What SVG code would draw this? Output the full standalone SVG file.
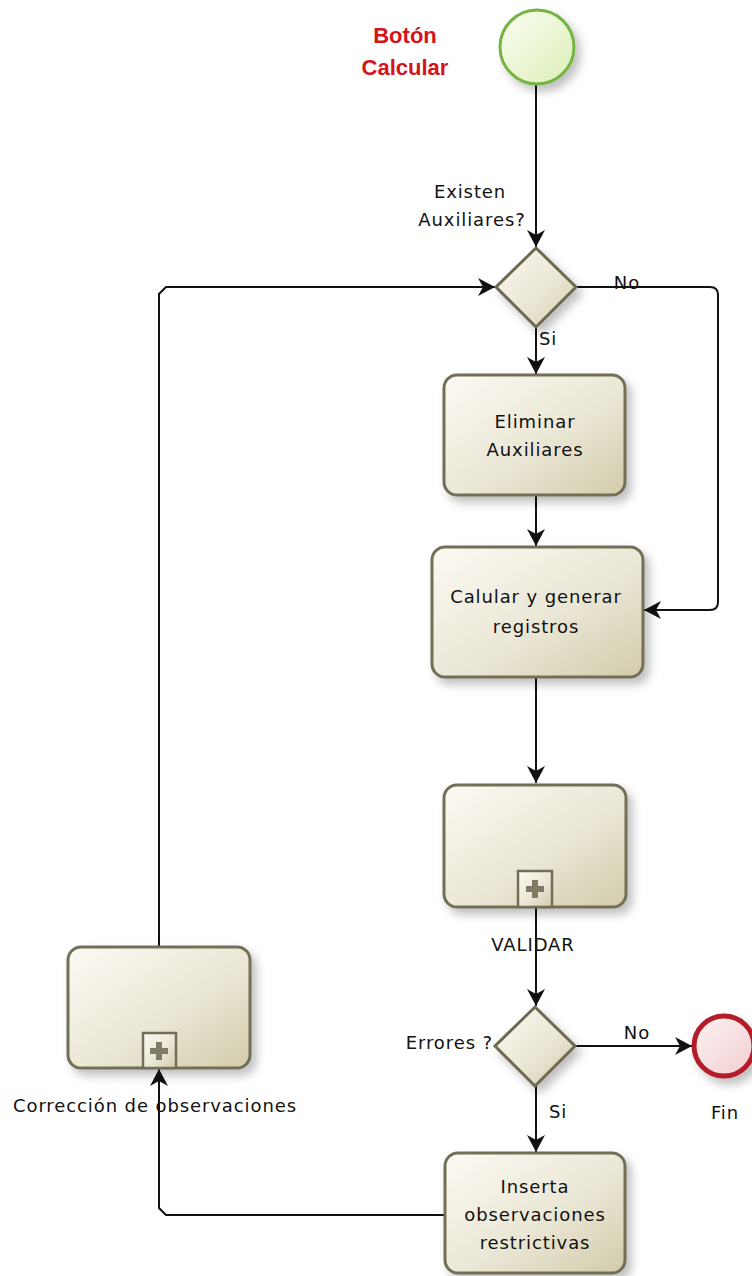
<svg xmlns="http://www.w3.org/2000/svg" width="752" height="1276" viewBox="0 0 752 1276">
<defs>
<linearGradient id="gTask" x1="0" y1="0" x2="1" y2="1">
<stop offset="0" stop-color="#fbfaf3"/>
<stop offset="0.55" stop-color="#ebe7d6"/>
<stop offset="1" stop-color="#d2cbaa"/>
</linearGradient>
<linearGradient id="gStart" x1="0" y1="0" x2="1" y2="1">
<stop offset="0" stop-color="#fbfdf2"/>
<stop offset="1" stop-color="#dcefb8"/>
</linearGradient>
<linearGradient id="gEnd" x1="0" y1="0" x2="1" y2="1">
<stop offset="0" stop-color="#fdf3f3"/>
<stop offset="1" stop-color="#f2cdd0"/>
</linearGradient>
<filter id="sh" x="-20%" y="-20%" width="160%" height="160%">
<feDropShadow dx="5" dy="6" stdDeviation="5" flood-color="#000" flood-opacity="0.25"/>
</filter>
<marker id="arr" markerUnits="userSpaceOnUse" markerWidth="20" markerHeight="20" refX="17" refY="10" orient="auto">
<path d="M0,1 L17,10 L0,19 L5,10 Z" fill="#111"/>
</marker>
<style>
.task{fill:url(#gTask);stroke:#736e57;stroke-width:3}
.gw{fill:url(#gTask);stroke:#6d6951;stroke-width:3}
.mk{fill:url(#gTask);stroke:#736e57;stroke-width:2.5}
.plus{fill:#807b64}
.t{font-family:"DejaVu Sans",Verdana,sans-serif;font-size:18px;letter-spacing:0.9px;fill:#111}
.c{text-anchor:middle}
.red{font-family:"Liberation Sans",Arial,sans-serif;font-weight:bold;font-size:22px;fill:#d4141c;text-anchor:middle}
.con{fill:none;stroke:#111;stroke-width:2}
</style>
</defs>
<rect width="752" height="1276" fill="#fff"/>

<g id="connectors">
<path class="con" d="M536,85 L536,247" marker-end="url(#arr)"/>
<path class="con" d="M536,327 L536,374" marker-end="url(#arr)"/>
<path class="con" d="M576,287 L710,287 Q718,287 718,295 L718,602 Q718,610 710,610 L644,610" marker-end="url(#arr)"/>
<path class="con" d="M536,495 L536,546" marker-end="url(#arr)"/>
<path class="con" d="M536,677 L536,783" marker-end="url(#arr)"/>
<path class="con" d="M536,907 L536,1006" marker-end="url(#arr)"/>
<path class="con" d="M576,1046 L692,1046" marker-end="url(#arr)"/>
<path class="con" d="M536,1086 L536,1152" marker-end="url(#arr)"/>
<path class="con" d="M445,1215 L166,1215 L159,1208 L159,1069" marker-end="url(#arr)"/>
<path class="con" d="M159,947 L159,294 L166,287 L495,287" marker-end="url(#arr)"/>
<text class="t c" x="627" y="289">No</text>
<text class="t c" x="548" y="345">Si</text>
<text class="t c" x="637" y="1039">No</text>
<text class="t c" x="558" y="1118">Si</text>
</g>

<g id="start">
<circle cx="537" cy="47" r="37" fill="url(#gStart)" stroke="#74b443" stroke-width="3" filter="url(#sh)"/>
<text class="red" x="405" y="43">Botón</text>
<text class="red" x="405" y="75">Calcular</text>
</g>

<g id="gateway1">
<polygon class="gw" points="536,248 576,287 536,327 496,287" filter="url(#sh)"/>
<text class="t c" x="470" y="198">Existen</text>
<text class="t c" x="472" y="226">Auxiliares?</text>
</g>

<g id="task1">
<rect class="task" x="444" y="375" width="181" height="120" rx="13" filter="url(#sh)"/>
<text class="t c" x="535" y="428">Eliminar</text>
<text class="t c" x="535" y="456">Auxiliares</text>
</g>

<g id="task2">
<rect class="task" x="432" y="547" width="211" height="130" rx="13" filter="url(#sh)"/>
<text class="t c" x="536" y="603">Calular y generar</text>
<text class="t c" x="536" y="633">registros</text>
</g>

<g id="validar">
<rect class="task" x="444" y="785" width="182" height="122" rx="13" filter="url(#sh)"/>
<rect class="mk" x="518" y="871" width="34" height="36"/>
<path class="plus" d="M532,880 h6 v6 h6 v6 h-6 v6 h-6 v-6 h-6 v-6 h6 z"/>
<text class="t c" x="533" y="951">VALIDAR</text>
</g>

<g id="gateway2">
<polygon class="gw" points="535,1007 575,1046 535,1086 495,1046" filter="url(#sh)"/>
<text class="t" x="493" y="1049" text-anchor="end">Errores ?</text>
</g>

<g id="fin">
<circle cx="724" cy="1046" r="30" fill="url(#gEnd)" stroke="#b41e2b" stroke-width="5" filter="url(#sh)"/>
<text class="t c" x="725" y="1119">Fin</text>
</g>

<g id="task3">
<rect class="task" x="445" y="1153" width="180" height="120" rx="13" filter="url(#sh)"/>
<text class="t c" x="535" y="1193">Inserta</text>
<text class="t c" x="535" y="1221">observaciones</text>
<text class="t c" x="535" y="1249">restrictivas</text>
</g>

<g id="correccion">
<rect class="task" x="68" y="947" width="182" height="121" rx="13" filter="url(#sh)"/>
<rect class="mk" x="143" y="1033" width="33" height="35"/>
<path class="plus" d="M156,1042 h6 v6 h6 v6 h-6 v6 h-6 v-6 h-6 v-6 h6 z"/>
<text class="t" x="13" y="1112">Corrección de observaciones</text>
</g>
</svg>
